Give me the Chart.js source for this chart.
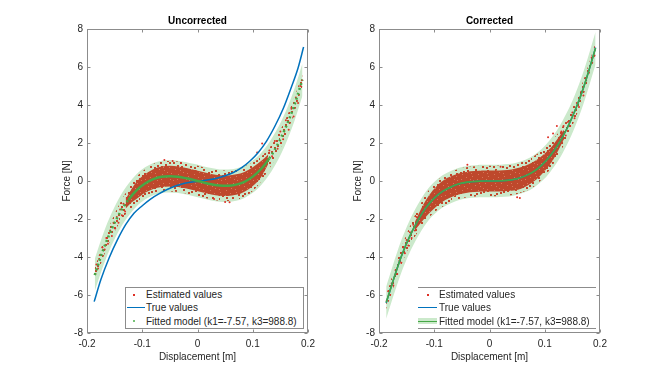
<!DOCTYPE html>
<html>
<head>
<meta charset="utf-8">
<script src="https://cdn.jsdelivr.net/npm/chart.js@4.4.1/dist/chart.umd.min.js"></script>
<style>
  body { margin: 0; background: #fff; }
  #wrap { position: relative; width: 664px; height: 374px; font-family: 'Liberation Sans', Arial, sans-serif; }
  canvas { position: absolute; top: 0; }
  .lg { position: absolute; font-size: 10px; color: #262626; background: #fff; }
  .lg span { position: absolute; white-space: nowrap; line-height: 12px; }
  .lg i { position: absolute; display: block; }
</style>
</head>
<body>
<div id="wrap">
  <canvas id="left" width="332" height="374" style="left:0"></canvas>
  <canvas id="right" width="332" height="374" style="left:332px"></canvas>
</div>
<script>
const titles = ['Uncorrected', 'Corrected'];
const xTitle = 'Displacement [m]';
const yTitle = 'Force [N]';
const legendLabels = ['Estimated values', 'True values', 'Fitted model (k1=-7.57, k3=988.8)'];
const xTickValues = [-0.2, -0.1, 0, 0.1, 0.2];
const xTickLabels = ['-0.2', '-0.1', '0', '0.1', '0.2'];
const yTickValues = [-8, -6, -4, -2, 0, 2, 4, 6, 8];

// ---- Uncorrected (left) ----
const gridL = [-0.186, -0.17, -0.155, -0.14, -0.125, -0.11, -0.095, -0.08, -0.065, -0.05, -0.035, -0.02, -0.005, 0.01, 0.025, 0.04, 0.055, 0.07, 0.085, 0.1, 0.115, 0.13, 0.145, 0.16, 0.175, 0.19];
const fitL = [-4.95, -3.57, -2.51, -1.65, -0.99, -0.48, -0.13, 0.10, 0.22, 0.25, 0.22, 0.14, 0.04, -0.07, -0.17, -0.24, -0.25, -0.19, -0.04, 0.23, 0.63, 1.19, 1.92, 2.84, 3.97, 5.34];
const bandHiL = [-4.10, -2.72, -1.66, -0.80, -0.14, 0.37, 0.72, 0.95, 1.07, 1.10, 1.07, 0.99, 0.89, 0.78, 0.68, 0.61, 0.60, 0.66, 0.81, 1.08, 1.48, 2.04, 2.77, 3.69, 4.82, 6.19];
const bandLoL = [-5.80, -4.42, -3.36, -2.50, -1.84, -1.33, -0.98, -0.75, -0.63, -0.60, -0.63, -0.71, -0.81, -0.92, -1.02, -1.09, -1.10, -1.04, -0.89, -0.62, -0.22, 0.34, 1.07, 1.99, 3.12, 4.49];
const spreadHiL = [-4.6, -3.17, -2.06, -1.15, -0.39, 0.22, 0.62, 0.9, 1.02, 1.05, 1.02, 0.94, 0.84, 0.73, 0.63, 0.56, 0.55, 0.61, 0.76, 0.98, 1.28, 1.74, 2.42, 3.29, 4.37, 5.69];
const spreadLoL = [-5.3, -3.97, -2.96, -2.15, -1.59, -1.18, -0.88, -0.7, -0.58, -0.55, -0.58, -0.66, -0.76, -0.87, -0.97, -1.04, -1.05, -0.99, -0.84, -0.52, -0.02, 0.64, 1.42, 2.39, 3.57, 4.99];
const coreXL = [-0.13, -0.12, -0.11, -0.095, -0.08, -0.065, -0.05, -0.035, -0.02, -0.005, 0.01, 0.025, 0.04, 0.055, 0.07, 0.085, 0.1, 0.115, 0.128];
const coreHiL = [-0.95, -0.45, -0.02, 0.36, 0.62, 0.76, 0.8, 0.76, 0.68, 0.58, 0.47, 0.37, 0.3, 0.29, 0.35, 0.48, 0.72, 1.05, 1.4];
const coreLoL = [-1.45, -1.15, -0.94, -0.62, -0.42, -0.32, -0.29, -0.32, -0.4, -0.5, -0.61, -0.71, -0.78, -0.79, -0.73, -0.56, -0.26, 0.2, 0.9];
const trueXL = [-0.187, -0.175, -0.16, -0.145, -0.13, -0.115, -0.1, -0.085, -0.07, -0.055, -0.04, -0.025, -0.01, 0.005, 0.02, 0.035, 0.05, 0.065, 0.08, 0.095, 0.11, 0.125, 0.14, 0.155, 0.17, 0.182, 0.192];
const trueL = [-6.35, -5.2, -4.05, -3.1, -2.3, -1.7, -1.3, -0.95, -0.68, -0.45, -0.26, -0.13, -0.05, 0.0, 0.06, 0.15, 0.28, 0.45, 0.7, 1.05, 1.5, 2.1, 2.88, 3.8, 4.95, 5.95, 7.05];
const dotsL = [[-0.185, -4.9], [-0.183, -4.4], [-0.18, -4.6], [-0.178, -4.1], [-0.175, -3.9], [-0.172, -3.5], [-0.168, -3.6], [-0.165, -3.0],
  [-0.162, -3.3], [-0.158, -2.6], [-0.155, -2.9], [-0.152, -2.2], [-0.149, -2.5], [-0.146, -1.9], [-0.143, -2.2], [-0.14, -1.5],
  [-0.137, -1.8], [-0.134, -1.2], [-0.131, -1.6], [-0.128, -0.9], [-0.06, 1.1], [-0.045, 1.05], [-0.03, 0.95], [0.05, -1.1],
  [0.058, -1.12], [0.03, -0.95], [0.13, 1.6], [0.135, 1.3], [0.14, 2.1], [0.145, 1.7], [0.15, 2.6], [0.155, 2.2], [0.16, 3.2],
  [0.165, 2.7], [0.17, 3.8], [0.174, 3.4], [0.178, 4.4], [0.182, 4.1], [0.186, 5.0], [0.189, 5.3], [0.117, 1.98], [0.108, 1.5]];

// ---- Corrected (right) ----
const gridR = [-0.187, -0.175, -0.16, -0.145, -0.13, -0.115, -0.1, -0.085, -0.07, -0.055, -0.04, -0.025, -0.01, 0.005, 0.02, 0.035, 0.05, 0.065, 0.08, 0.095, 0.11, 0.125, 0.14, 0.155, 0.17, 0.182, 0.192];
const fitR = [-6.4, -5.3, -4.0, -2.95, -2.1, -1.4, -0.9, -0.55, -0.32, -0.15, -0.06, -0.02, 0.0, 0.0, 0.01, 0.04, 0.12, 0.27, 0.5, 0.85, 1.33, 1.95, 2.75, 3.72, 4.9, 6.02, 7.0];
const trueR = [-6.42, -5.3, -4.0, -2.95, -2.1, -1.4, -0.9, -0.55, -0.32, -0.15, -0.06, -0.02, 0.0, 0.0, 0.01, 0.04, 0.12, 0.27, 0.5, 0.85, 1.33, 1.95, 2.75, 3.72, 4.9, 6.02, 7.02];
const bandHiR = [-5.55, -4.45, -3.15, -2.10, -1.25, -0.55, -0.05, 0.30, 0.53, 0.70, 0.79, 0.83, 0.85, 0.85, 0.86, 0.89, 0.97, 1.12, 1.35, 1.70, 2.18, 2.80, 3.60, 4.57, 5.75, 6.87, 7.85];
const bandLoR = [-7.25, -6.15, -4.85, -3.80, -2.95, -2.25, -1.75, -1.40, -1.17, -1.00, -0.91, -0.87, -0.85, -0.85, -0.84, -0.81, -0.73, -0.58, -0.35, 0.00, 0.48, 1.10, 1.90, 2.87, 4.05, 5.17, 6.15];
const spreadHiR = [-6.05, -4.9, -3.55, -2.45, -1.5, -0.7, -0.15, 0.25, 0.48, 0.65, 0.74, 0.78, 0.8, 0.8, 0.81, 0.84, 0.92, 1.07, 1.3, 1.6, 2.03, 2.55, 3.25, 4.17, 5.3, 6.37, 7.3];
const spreadLoR = [-6.75, -5.7, -4.45, -3.45, -2.7, -2.1, -1.65, -1.35, -1.12, -0.95, -0.86, -0.82, -0.8, -0.8, -0.79, -0.76, -0.68, -0.53, -0.3, 0.1, 0.63, 1.35, 2.25, 3.27, 4.5, 5.67, 6.7];
const coreXR = [-0.135, -0.12, -0.11, -0.095, -0.08, -0.065, -0.05, -0.035, -0.02, -0.005, 0.01, 0.025, 0.04, 0.055, 0.07, 0.085, 0.1, 0.115, 0.135];
const coreHiR = [-2.15, -1.25, -0.78, -0.25, 0.1, 0.3, 0.43, 0.51, 0.54, 0.55, 0.55, 0.56, 0.61, 0.71, 0.87, 1.1, 1.45, 1.9, 2.7];
const coreLoR = [-2.6, -2.05, -1.72, -1.31, -1.0, -0.8, -0.67, -0.59, -0.56, -0.55, -0.55, -0.54, -0.51, -0.43, -0.22, 0.08, 0.52, 1.1, 2.2];
const dotsR = [[-0.186, -6.3], [-0.183, -5.8], [-0.18, -6.0], [-0.177, -5.4], [-0.174, -5.5], [-0.17, -4.7], [-0.167, -4.9], [-0.163, -4.2],
  [-0.16, -4.3], [-0.156, -3.5], [-0.153, -3.8], [-0.15, -3.1], [-0.147, -3.4], [-0.144, -2.7], [-0.141, -3.0], [-0.138, -2.3],
  [-0.135, -2.6], [-0.132, -1.9], [0.05, -0.85], [0.055, -0.9], [-0.04, 0.85], [0.02, 0.75], [0.13, 2.6], [0.128, 2.1],
  [0.134, 2.9], [0.138, 2.4], [0.142, 3.1], [0.146, 2.9], [0.15, 3.6], [0.154, 3.3], [0.158, 4.1], [0.162, 3.9], [0.166, 4.7],
  [0.17, 4.5], [0.175, 5.3], [0.18, 5.7], [0.185, 6.5], [0.19, 6.6], [0.106, 2.3], [0.122, 2.9], [0.115, 2.5]];

const C = {
  band: 'rgb(203,233,203)', fit: 'rgb(70,168,70)', blue: 'rgb(0,114,189)', dot: 'rgb(222,48,38)',
  core: 'rgb(190,72,44)', speck: 'rgb(196,70,44)', axis: '#8c8c8c', text: '#262626'
};

Chart.defaults.font.family = "'Liberation Sans', Arial, sans-serif";
Chart.defaults.font.size = 10;
Chart.defaults.color = C.text;

const pts = (xs, ys) => xs.map((x, i) => ({x, y: ys[i]}));

// repeating textures so the dense dot cloud does not look like a flat blob
function tile(size, base, cells, color, dot) {
  const c = document.createElement('canvas');
  c.width = c.height = size;
  const g = c.getContext('2d');
  if (base) { g.fillStyle = base; g.fillRect(0, 0, size, size); }
  g.fillStyle = color;
  cells.forEach(([a, b]) => g.fillRect(a, b, dot, dot));
  return g.createPattern(c, 'repeat');
}
const corePattern = tile(16, C.core,
  [[1, 3], [4, 10], [6, 1], [9, 7], [11, 13], [13, 4], [15, 9], [2, 14], [7, 12], [12, 0], [3, 7], [10, 3]],
  'rgb(214,118,90)', 1);
const spreadPattern = tile(20, null,
  [[0, 2], [3, 9], [5, 4], [2, 15], [7, 0], [8, 12], [10, 6], [12, 17], [13, 2], [15, 10], [17, 5], [18, 14],
   [6, 17], [11, 11], [16, 0], [1, 6], [14, 7], [4, 13], [9, 2], [19, 18]],
  C.speck, 2);

// box + inward ticks like the original figure
const boxPlugin = {
  id: 'box',
  afterDatasetsDraw(chart) {
    const {ctx, chartArea: a, scales: {x, y}} = chart;
    const l = Math.round(a.left) + 0.5, r = Math.round(a.right) - 0.5;
    const t = Math.round(a.top) + 0.5, b = Math.round(a.bottom) - 0.5;
    ctx.save();
    ctx.strokeStyle = C.axis;
    ctx.lineWidth = 1;
    ctx.strokeRect(l, t, r - l, b - t);
    ctx.beginPath();
    xTickValues.forEach(v => {
      const px = Math.round(x.getPixelForValue(v)) + 0.5;
      ctx.moveTo(px, b); ctx.lineTo(px, b - 3);
      ctx.moveTo(px, t); ctx.lineTo(px, t + 3);
    });
    yTickValues.forEach(v => {
      const py = Math.round(y.getPixelForValue(v)) + 0.5;
      ctx.moveTo(l, py); ctx.lineTo(l + 3, py);
      ctx.moveTo(r, py); ctx.lineTo(r - 3, py);
    });
    ctx.stroke();
    ctx.restore();
  }
};

function makeChart(id, s) {
  const datasets = [
    { data: pts(s.gridX, s.fit), borderColor: C.fit, borderWidth: s.fitWidth,
      segment: s.dashTails ? { borderDash: c => (c.p1.parsed.x <= -0.125 || c.p0.parsed.x >= 0.13) ? [2, 3] : undefined } : {} },
    { data: pts(s.trueX, s.trueY), borderColor: C.blue, borderWidth: 1.5 },
    { data: s.dots.map(([x, y]) => ({x, y})), showLine: false, pointRadius: 1, pointBorderWidth: 0, pointBackgroundColor: C.dot },
    { data: pts(s.coreX, s.coreHi), borderWidth: 0, fill: '+1', backgroundColor: corePattern },
    { data: pts(s.coreX, s.coreLo), borderWidth: 0 },
    { data: pts(s.gridX, s.spreadHi), borderWidth: 0, fill: '+1', backgroundColor: spreadPattern },
    { data: pts(s.gridX, s.spreadLo), borderWidth: 0 },
    { data: pts(s.gridX, s.bandHi), borderWidth: 0, fill: '+1', backgroundColor: C.band },
    { data: pts(s.gridX, s.bandLo), borderWidth: 0 }
  ];
  return new Chart(document.getElementById(id), {
    type: 'line',
    data: { datasets },
    plugins: [boxPlugin],
    options: {
      responsive: false,
      animation: false,
      devicePixelRatio: 1,
      layout: { padding: { left: 0, right: s.padRight, top: 0, bottom: 0 } },
      elements: {
        point: { radius: 0, hoverRadius: 0 },
        line: { cubicInterpolationMode: 'monotone', fill: false }
      },
      plugins: {
        legend: { display: false },
        tooltip: { enabled: false },
        title: {
          display: true, text: s.title, color: '#000', fullSize: false,
          font: { size: 10, weight: 'bold' }, padding: { top: 15, bottom: 2 }
        }
      },
      scales: {
        x: {
          type: 'linear', min: -0.2, max: 0.2,
          grid: { display: false, drawTicks: false }, border: { display: false },
          afterBuildTicks: sc => { sc.ticks = xTickValues.map(v => ({value: v})); },
          ticks: { padding: 5, maxRotation: 0, autoSkip: false, callback: v => xTickLabels[xTickValues.indexOf(v)] },
          title: { display: true, text: xTitle, padding: { top: 0, bottom: 11 } },
          afterFit: sc => { sc.height = 41; }
        },
        y: {
          type: 'linear', min: -8, max: 8,
          grid: { display: false, drawTicks: false }, border: { display: false },
          afterBuildTicks: sc => { sc.ticks = yTickValues.map(v => ({value: v})); },
          ticks: { padding: 4, callback: v => String(v) },
          title: { display: true, text: yTitle, padding: { top: s.yTitlePad, bottom: 0 } },
          afterFit: sc => { sc.width = s.yWidth; }
        }
      }
    }
  });
}

makeChart('left', {
  title: titles[0], gridX: gridL, fit: fitL, bandHi: bandHiL, bandLo: bandLoL,
  spreadHi: spreadHiL, spreadLo: spreadLoL, coreX: coreXL, coreHi: coreHiL, coreLo: coreLoL,
  trueX: trueXL, trueY: trueL, dots: dotsL, fitWidth: 2.5, dashTails: true,
  padRight: 24, yWidth: 87, yTitlePad: 61
});
makeChart('right', {
  title: titles[1], gridX: gridR, fit: fitR, bandHi: bandHiR, bandLo: bandLoR,
  spreadHi: spreadHiR, spreadLo: spreadLoR, coreX: coreXR, coreHi: coreHiR, coreLo: coreLoR,
  trueX: gridR, trueY: trueR, dots: dotsR, fitWidth: 1.6, dashTails: false,
  padRight: 64, yWidth: 47, yTitlePad: 20
});

// legends sit inside the axes, bottom right, as in the figure
function legend(box, textLeft, icons) {
  const d = document.createElement('div');
  d.className = 'lg';
  Object.assign(d.style, box);
  legendLabels.forEach((t, i) => {
    const s = document.createElement('span');
    s.textContent = t;
    s.style.left = textLeft + 'px';
    s.style.top = [1, 14, 27.5][i] + 'px';
    d.appendChild(s);
  });
  icons.forEach(ic => {
    const e = document.createElement('i');
    Object.assign(e.style, ic);
    d.appendChild(e);
  });
  document.getElementById('wrap').appendChild(d);
}

legend({ left: '125px', top: '287px', width: '177px', height: '40px', border: '1px solid ' + C.axis }, 20, [
  { left: '7px', top: '6px', width: '2px', height: '2px', background: C.dot },
  { left: '1px', top: '19px', width: '18px', height: '1px', background: C.blue },
  { left: '7px', top: '32px', width: '2px', height: '2px', background: 'rgb(120,195,120)' }
]);
legend({ left: '418px', top: '287px', width: '178px', height: '40px', borderTop: '1px solid ' + C.axis, borderBottom: '1px solid ' + C.axis, background: 'transparent' }, 21, [
  { left: '9px', top: '6px', width: '2px', height: '2px', background: C.dot },
  { left: '0px', top: '19px', width: '19px', height: '1px', background: C.blue },
  { left: '0px', top: '30px', width: '19px', height: '6px', background: C.band },
  { left: '0px', top: '33px', width: '19px', height: '1px', background: C.fit }
]);
</script>
</body>
</html>
